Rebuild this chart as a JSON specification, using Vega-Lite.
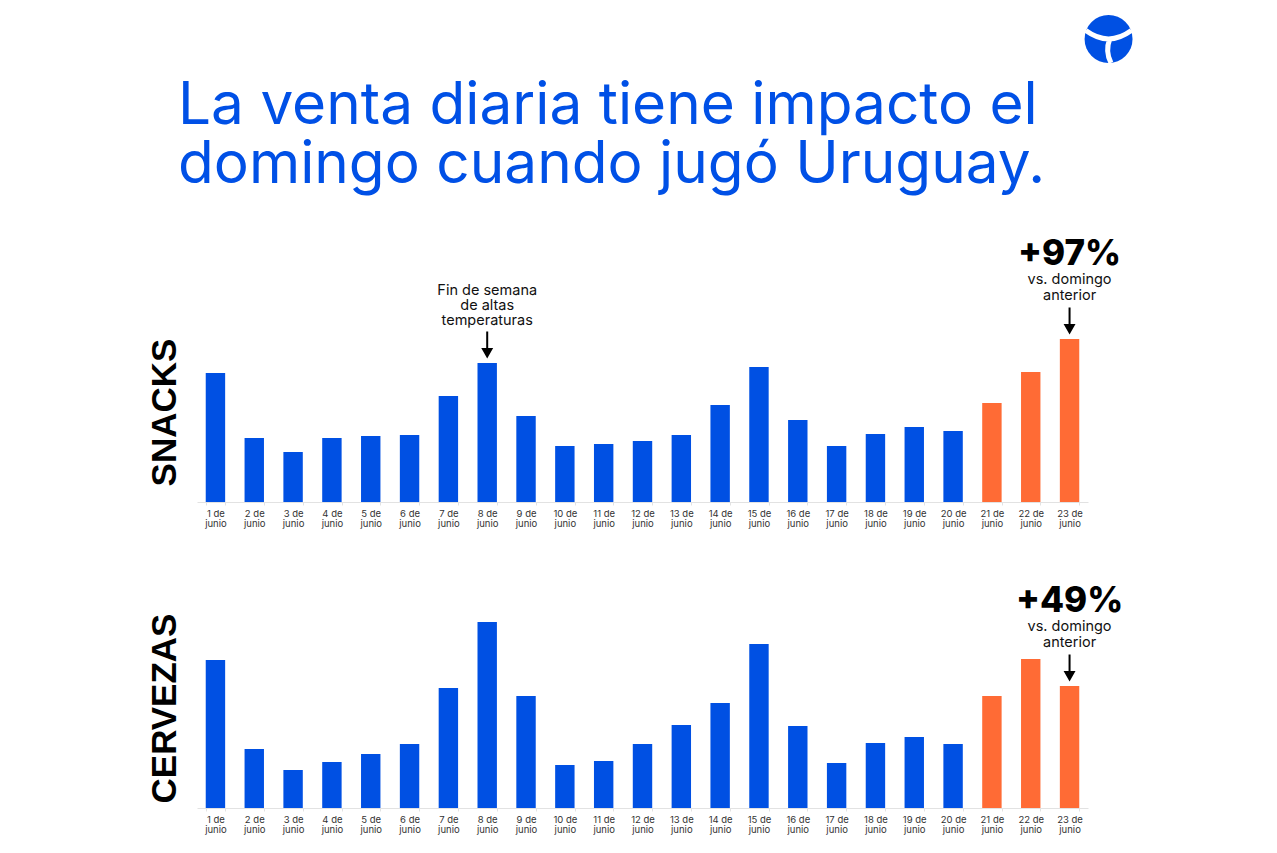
{
  "$schema": "https://vega.github.io/schema/vega-lite/v6.json",
  "background": "white",
  "padding": {"left": 146, "top": 15, "right": 20, "bottom": 10},
  "bounds": "flush",
  "spacing": 106,
  "title": {
    "text": ["La venta diaria tiene impacto el", "domingo cuando jugó Uruguay."],
    "anchor": "start",
    "font": "Inter",
    "fontSize": 58.5,
    "fontWeight": 400,
    "color": "#0050E6",
    "lineHeight": 59,
    "offset": -180,
    "dx": 31
  },
  "data": {
    "values": [
      {"categoria": "SNACKS", "dia": "1 de junio", "valor": 129, "grupo": "previo"},
      {"categoria": "SNACKS", "dia": "2 de junio", "valor": 64, "grupo": "previo"},
      {"categoria": "SNACKS", "dia": "3 de junio", "valor": 50, "grupo": "previo"},
      {"categoria": "SNACKS", "dia": "4 de junio", "valor": 64, "grupo": "previo"},
      {"categoria": "SNACKS", "dia": "5 de junio", "valor": 66, "grupo": "previo"},
      {"categoria": "SNACKS", "dia": "6 de junio", "valor": 67, "grupo": "previo"},
      {"categoria": "SNACKS", "dia": "7 de junio", "valor": 106, "grupo": "previo"},
      {"categoria": "SNACKS", "dia": "8 de junio", "valor": 139, "grupo": "previo", "nota": ["Fin de semana", "de altas", "temperaturas"]},
      {"categoria": "SNACKS", "dia": "9 de junio", "valor": 86, "grupo": "previo"},
      {"categoria": "SNACKS", "dia": "10 de junio", "valor": 56, "grupo": "previo"},
      {"categoria": "SNACKS", "dia": "11 de junio", "valor": 58, "grupo": "previo"},
      {"categoria": "SNACKS", "dia": "12 de junio", "valor": 61, "grupo": "previo"},
      {"categoria": "SNACKS", "dia": "13 de junio", "valor": 67, "grupo": "previo"},
      {"categoria": "SNACKS", "dia": "14 de junio", "valor": 97, "grupo": "previo"},
      {"categoria": "SNACKS", "dia": "15 de junio", "valor": 135, "grupo": "previo"},
      {"categoria": "SNACKS", "dia": "16 de junio", "valor": 82, "grupo": "previo"},
      {"categoria": "SNACKS", "dia": "17 de junio", "valor": 56, "grupo": "previo"},
      {"categoria": "SNACKS", "dia": "18 de junio", "valor": 68, "grupo": "previo"},
      {"categoria": "SNACKS", "dia": "19 de junio", "valor": 75, "grupo": "previo"},
      {"categoria": "SNACKS", "dia": "20 de junio", "valor": 71, "grupo": "previo"},
      {"categoria": "SNACKS", "dia": "21 de junio", "valor": 99, "grupo": "partido"},
      {"categoria": "SNACKS", "dia": "22 de junio", "valor": 130, "grupo": "partido"},
      {"categoria": "SNACKS", "dia": "23 de junio", "valor": 163, "grupo": "partido", "variacion": "+97%", "nota": ["vs. domingo", "anterior"]},
      {"categoria": "CERVEZAS", "dia": "1 de junio", "valor": 148, "grupo": "previo"},
      {"categoria": "CERVEZAS", "dia": "2 de junio", "valor": 59, "grupo": "previo"},
      {"categoria": "CERVEZAS", "dia": "3 de junio", "valor": 38, "grupo": "previo"},
      {"categoria": "CERVEZAS", "dia": "4 de junio", "valor": 46, "grupo": "previo"},
      {"categoria": "CERVEZAS", "dia": "5 de junio", "valor": 54, "grupo": "previo"},
      {"categoria": "CERVEZAS", "dia": "6 de junio", "valor": 64, "grupo": "previo"},
      {"categoria": "CERVEZAS", "dia": "7 de junio", "valor": 120, "grupo": "previo"},
      {"categoria": "CERVEZAS", "dia": "8 de junio", "valor": 186, "grupo": "previo"},
      {"categoria": "CERVEZAS", "dia": "9 de junio", "valor": 112, "grupo": "previo"},
      {"categoria": "CERVEZAS", "dia": "10 de junio", "valor": 43, "grupo": "previo"},
      {"categoria": "CERVEZAS", "dia": "11 de junio", "valor": 47, "grupo": "previo"},
      {"categoria": "CERVEZAS", "dia": "12 de junio", "valor": 64, "grupo": "previo"},
      {"categoria": "CERVEZAS", "dia": "13 de junio", "valor": 83, "grupo": "previo"},
      {"categoria": "CERVEZAS", "dia": "14 de junio", "valor": 105, "grupo": "previo"},
      {"categoria": "CERVEZAS", "dia": "15 de junio", "valor": 164, "grupo": "previo"},
      {"categoria": "CERVEZAS", "dia": "16 de junio", "valor": 82, "grupo": "previo"},
      {"categoria": "CERVEZAS", "dia": "17 de junio", "valor": 45, "grupo": "previo"},
      {"categoria": "CERVEZAS", "dia": "18 de junio", "valor": 65, "grupo": "previo"},
      {"categoria": "CERVEZAS", "dia": "19 de junio", "valor": 71, "grupo": "previo"},
      {"categoria": "CERVEZAS", "dia": "20 de junio", "valor": 64, "grupo": "previo"},
      {"categoria": "CERVEZAS", "dia": "21 de junio", "valor": 112, "grupo": "partido"},
      {"categoria": "CERVEZAS", "dia": "22 de junio", "valor": 149, "grupo": "partido"},
      {"categoria": "CERVEZAS", "dia": "23 de junio", "valor": 122, "grupo": "partido", "variacion": "+49%", "nota": ["vs. domingo", "anterior"]}
    ]
  },
  "vconcat": [
    {
      "transform": [{"filter": "datum.categoria === 'SNACKS'"}],
      "width": 891,
      "height": 180,
      "encoding": {
        "x": {
          "field": "dia", "type": "ordinal", "sort": null,
          "scale": {"paddingInner": 0.5, "paddingOuter": 0.225},
          "axis": {
            "title": null, "labelAngle": 0,
            "labelExpr": "datum.label ? [replace(datum.label, ' junio', ''), 'junio'] : ''",
            "labelFont": "Inter", "labelFontSize": 9.5, "labelColor": "#333333",
            "labelLineHeight": 10.5, "labelPadding": 3,
            "domainColor": "#e2e2e2", "tickColor": "#e2e2e2", "tickSize": 3, "tickBand": "extent"
          }
        },
        "y": {
          "field": "valor", "type": "quantitative",
          "scale": {"domain": [0, 180], "nice": false},
          "axis": {
            "title": "SNACKS", "labels": false, "ticks": false, "domain": false, "grid": false,
            "titleFont": "Liberation Sans", "titleFontSize": 35, "titleFontWeight": "bold",
            "titleColor": "#000000", "titlePadding": 15
          }
        }
      },
      "layer": [
        {
          "mark": {"type": "bar"},
          "encoding": {
            "color": {"field": "grupo", "type": "nominal", "legend": null,
              "scale": {"domain": ["previo", "partido"], "range": ["#0050E3", "#FF6B35"]}}
          }
        },
        {
          "transform": [{"filter": "datum.variacion != null"}],
          "mark": {"type": "text", "font": "Inter", "fontSize": 35, "fontWeight": 800, "color": "#000000", "baseline": "middle", "dy": -85},
          "encoding": {"text": {"field": "variacion"}}
        },
        {
          "transform": [{"filter": "datum.nota != null && length(datum.nota) === 3"}],
          "mark": {"type": "text", "font": "Inter", "fontSize": 14.5, "color": "#111111", "baseline": "middle", "lineHeight": 15, "dy": -72},
          "encoding": {"text": {"field": "nota"}}
        },
        {
          "transform": [{"filter": "datum.nota != null && length(datum.nota) === 2"}],
          "mark": {"type": "text", "font": "Inter", "fontSize": 14.5, "color": "#111111", "baseline": "middle", "lineHeight": 16, "dy": -59},
          "encoding": {"text": {"field": "nota"}}
        },
        {
          "transform": [{"filter": "datum.nota != null"}],
          "mark": {"type": "point", "shape": "M0,-1L0,0.45M-0.34,0.4L0.34,0.4L0,1Z", "size": 625, "filled": true, "fill": "#000000", "stroke": "#000000", "strokeWidth": 2, "opacity": 1, "yOffset": -19},
          "encoding": {}
        },
        {
          "transform": [{"filter": "datum.dia === '23 de junio'"}],
          "mark": {"type": "point", "shape": "circle", "size": 2300, "filled": true, "fill": "#0050E3", "opacity": 1, "xOffset": 39, "yOffset": -300},
          "encoding": {}
        },
        {
          "transform": [{"filter": "datum.dia === '23 de junio'"}],
          "mark": {"type": "point", "shape": "M-0.95,-0.35Q0,0.35 0.95,-0.35M0.05,0Q-0.15,0.5 0.1,1", "size": 2300, "filled": false, "stroke": "#ffffff", "strokeWidth": 5, "opacity": 1, "xOffset": 39, "yOffset": -300},
          "encoding": {}
        }
      ]
    },
    {
      "transform": [{"filter": "datum.categoria === 'CERVEZAS'"}],
      "width": 891,
      "height": 200,
      "encoding": {
        "x": {
          "field": "dia", "type": "ordinal", "sort": null,
          "scale": {"paddingInner": 0.5, "paddingOuter": 0.225},
          "axis": {
            "title": null, "labelAngle": 0,
            "labelExpr": "datum.label ? [replace(datum.label, ' junio', ''), 'junio'] : ''",
            "labelFont": "Inter", "labelFontSize": 9.5, "labelColor": "#333333",
            "labelLineHeight": 10.5, "labelPadding": 3,
            "domainColor": "#e2e2e2", "tickColor": "#e2e2e2", "tickSize": 3, "tickBand": "extent"
          }
        },
        "y": {
          "field": "valor", "type": "quantitative",
          "scale": {"domain": [0, 200], "nice": false},
          "axis": {
            "title": "CERVEZAS", "labels": false, "ticks": false, "domain": false, "grid": false,
            "titleFont": "Liberation Sans", "titleFontSize": 35, "titleFontWeight": "bold",
            "titleColor": "#000000", "titlePadding": 15
          }
        }
      },
      "layer": [
        {
          "mark": {"type": "bar"},
          "encoding": {
            "color": {"field": "grupo", "type": "nominal", "legend": null,
              "scale": {"domain": ["previo", "partido"], "range": ["#0050E3", "#FF6B35"]}}
          }
        },
        {
          "transform": [{"filter": "datum.variacion != null"}],
          "mark": {"type": "text", "font": "Inter", "fontSize": 35, "fontWeight": 800, "color": "#000000", "baseline": "middle", "dy": -85},
          "encoding": {"text": {"field": "variacion"}}
        },
        {
          "transform": [{"filter": "datum.nota != null"}],
          "mark": {"type": "text", "font": "Inter", "fontSize": 14.5, "color": "#111111", "baseline": "middle", "lineHeight": 16, "dy": -59},
          "encoding": {"text": {"field": "nota"}}
        },
        {
          "transform": [{"filter": "datum.nota != null"}],
          "mark": {"type": "point", "shape": "M0,-1L0,0.45M-0.34,0.4L0.34,0.4L0,1Z", "size": 625, "filled": true, "fill": "#000000", "stroke": "#000000", "strokeWidth": 2, "opacity": 1, "yOffset": -19},
          "encoding": {}
        }
      ]
    }
  ],
  "config": {
    "view": {"stroke": null},
    "axis": {"labelOverlap": false}
  }
}
